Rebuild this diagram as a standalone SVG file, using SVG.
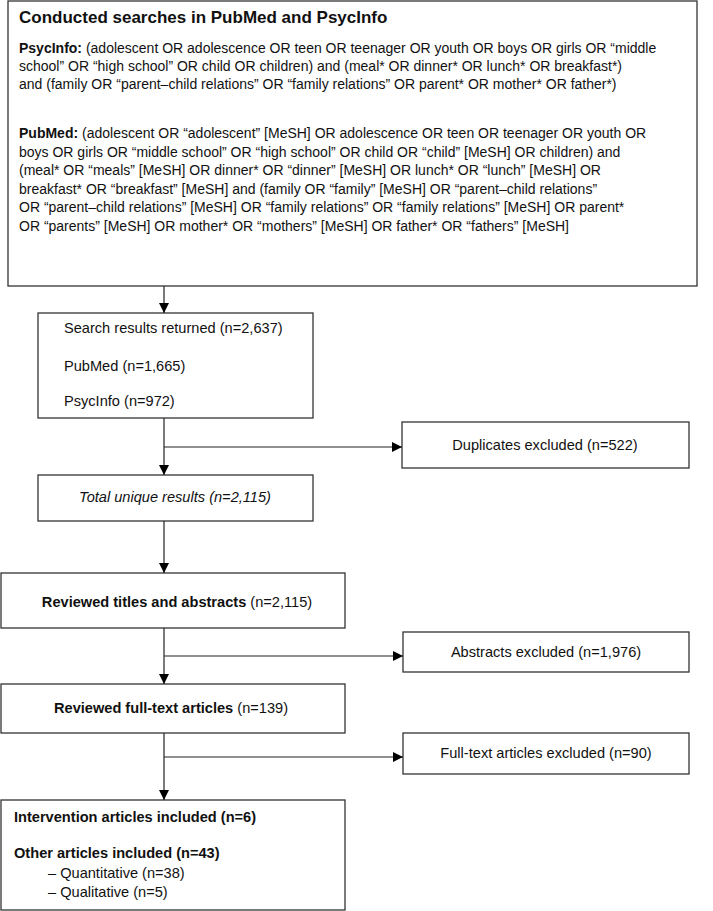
<svg xmlns="http://www.w3.org/2000/svg" width="713" height="911" viewBox="0 0 713 911">
<defs>
<marker id="ah" viewBox="0 0 10 10" refX="10" refY="5" markerWidth="10" markerHeight="10" markerUnits="userSpaceOnUse" orient="auto">
<path d="M0,0 L10,5 L0,10 Z" fill="#000"/>
</marker>
<style>
.box{fill:#fff;stroke:#333;stroke-width:1.3}
text{font-family:"Liberation Sans",Arial,sans-serif;font-size:14.6px;fill:#111}
.q{font-size:14px}
.b{font-weight:bold}
.c{text-anchor:middle}
.con{stroke:#222;stroke-width:1.2;fill:none}
</style>
</defs>
<rect width="713" height="911" fill="#fff"/>
<g id="searches">
<rect class="box" x="8" y="1" width="689" height="285"/>
<text x="19" y="23" class="b" style="font-size:17px">Conducted searches in PubMed and PsycInfo</text>
<text x="19" y="53" class="q"><tspan class="b">PsycInfo:</tspan> (adolescent OR adolescence OR teen OR teenager OR youth OR boys OR girls OR “middle</text>
<text x="19" y="71" class="q">school” OR “high school” OR child OR children) and (meal* OR dinner* OR lunch* OR breakfast*)</text>
<text x="19" y="89" class="q">and (family OR “parent–child relations” OR “family relations” OR parent* OR mother* OR father*)</text>
<text x="19" y="138" class="q"><tspan class="b">PubMed:</tspan> (adolescent OR “adolescent” [MeSH] OR adolescence OR teen OR teenager OR youth OR</text>
<text x="19" y="157" class="q">boys OR girls OR “middle school” OR “high school” OR child OR “child” [MeSH] OR children) and</text>
<text x="19" y="175" class="q">(meal* OR “meals” [MeSH] OR dinner* OR “dinner” [MeSH] OR lunch* OR “lunch” [MeSH] OR</text>
<text x="19" y="194" class="q">breakfast* OR “breakfast” [MeSH] and (family OR “family” [MeSH] OR “parent–child relations”</text>
<text x="19" y="212" class="q">OR “parent–child relations” [MeSH] OR “family relations” OR “family relations” [MeSH] OR parent*</text>
<text x="19" y="231" class="q">OR “parents” [MeSH] OR mother* OR “mothers” [MeSH] OR father* OR “fathers” [MeSH]</text>
</g>
<g id="results">
<rect class="box" x="38" y="313" width="275" height="105"/>
<text x="64" y="333">Search results returned (n=2,637)</text>
<text x="64" y="371">PubMed (n=1,665)</text>
<text x="64" y="406">PsycInfo (n=972)</text>
</g>
<g id="duplicates">
<rect class="box" x="402" y="422" width="287" height="46"/>
<text x="545" y="450" class="c">Duplicates excluded (n=522)</text>
</g>
<g id="unique">
<rect class="box" x="38" y="475" width="275" height="46"/>
<text x="175" y="502" class="c" font-style="italic">Total unique results (n=2,115)</text>
</g>
<g id="titles">
<rect class="box" x="1" y="573" width="344" height="55"/>
<text x="177" y="607" class="c"><tspan class="b">Reviewed titles and abstracts</tspan> (n=2,115)</text>
</g>
<g id="abstracts">
<rect class="box" x="403" y="632" width="286" height="40"/>
<text x="546" y="657" class="c">Abstracts excluded (n=1,976)</text>
</g>
<g id="fulltext">
<rect class="box" x="1" y="684" width="344" height="49"/>
<text x="171" y="713" class="c"><tspan class="b">Reviewed full-text articles</tspan> (n=139)</text>
</g>
<g id="ftexcluded">
<rect class="box" x="403" y="733" width="286" height="41"/>
<text x="546" y="758" class="c">Full-text articles excluded (n=90)</text>
</g>
<g id="included">
<rect class="box" x="1" y="800" width="344" height="110"/>
<text x="14" y="822" class="b">Intervention articles included (n=6)</text>
<text x="14" y="858" class="b">Other articles included (n=43)</text>
<text x="48" y="878">– Quantitative (n=38)</text>
<text x="48" y="897">– Qualitative (n=5)</text>
</g>
<g id="connectors">
<line class="con" x1="164" y1="286" x2="164" y2="313" marker-end="url(#ah)"/>
<line class="con" x1="164" y1="418" x2="164" y2="475" marker-end="url(#ah)"/>
<line class="con" x1="164" y1="447" x2="402" y2="447" marker-end="url(#ah)"/>
<line class="con" x1="164" y1="521" x2="164" y2="573" marker-end="url(#ah)"/>
<line class="con" x1="164" y1="628" x2="164" y2="684" marker-end="url(#ah)"/>
<line class="con" x1="164" y1="656" x2="403" y2="656" marker-end="url(#ah)"/>
<line class="con" x1="164" y1="733" x2="164" y2="800" marker-end="url(#ah)"/>
<line class="con" x1="164" y1="757" x2="403" y2="757" marker-end="url(#ah)"/>
</g>
</svg>
